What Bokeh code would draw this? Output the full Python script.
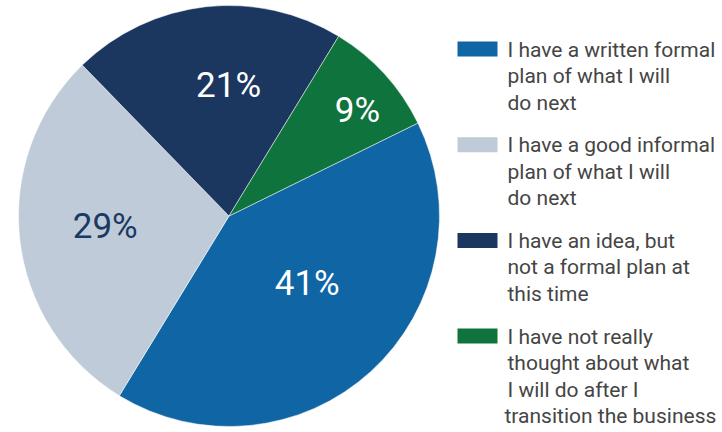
import math
from bokeh.plotting import figure
from bokeh.models import Range1d, ColumnDataSource
from bokeh.core.properties import value
from bokeh.embed import file_html
from bokeh.resources import INLINE

# ---- data ----
categories = [
    "I have a written formal plan of what I will do next",
    "I have a good informal plan of what I will do next",
    "I have an idea, but not a formal plan at this time",
    "I have not really thought about what I will do after I transition the business",
]
shares = [41, 29, 21, 9]
pct_labels = ["41%", "29%", "21%", "9%"]
legend_lines = [
    ["I have a written formal", " plan of what I will", "do next"],
    ["I have a good informal", " plan of what I will", "do next"],
    ["I have an idea, but", "not a formal plan at", " this time"],
    ["I have not really", "thought about what", " I will do after I", "transition the business"],
]

# ---- style ----
colors = ["#1065A5", "#BFCBD8", "#1B375F", "#0F733D"]
label_colors = ["#FFFFFF", "#1B3A63", "#FFFFFF", "#FFFFFF"]
label_r_frac = [0.49, 0.59, 0.62, 0.79]
label_nudge_deg = [6.9, -1.6, -6.2, -3.0]
FONT = "Roboto"

W, H = 722, 432


def py(page_y):
    return H - page_y


p = figure(width=W, height=H, output_backend="svg", toolbar_location=None,
           x_range=Range1d(0, W), y_range=Range1d(0, H), min_border=0)
p.axis.visible = False
p.grid.visible = False
p.outline_line_color = None
p.background_fill_color = "white"
p.border_fill_color = "white"

cx, cy, R = 228.5, py(215.5), 210.5
start = math.radians(26.2)
total = float(sum(shares))
hi, lo = [], []
cum = 0.0
for v in shares:
    hi.append(start - 2 * math.pi * cum / total)
    cum += v
    lo.append(start - 2 * math.pi * cum / total)

src = ColumnDataSource(dict(x=[cx] * 4, y=[cy] * 4, s=lo, e=hi, c=colors, cat=categories))
p.wedge(x="x", y="y", radius=R, radius_units="data", start_angle="s", end_angle="e",
        direction="anticlock", fill_color="c", line_color="white", line_width=0.5,
        source=src)

lx, ly = [], []
for i in range(4):
    mid = (lo[i] + hi[i]) / 2 + math.radians(label_nudge_deg[i])
    r = label_r_frac[i] * R
    lx.append(cx + r * math.cos(mid))
    ly.append(cy + r * math.sin(mid))
p.text(x=lx, y=ly, text=pct_labels, text_color=label_colors, text_font=value(FONT),
       text_font_size="35px", text_align="center", text_baseline="middle")

# legend
sw_x, sw_w, sw_h = 477, 40, 15
tx = 507
gtop0, gstep, lstep = 41, 95.7, 26.5
for i, lines in enumerate(legend_lines):
    top = gtop0 + gstep * i
    p.rect(x=[sw_x], y=[py(top + sw_h / 2)], width=sw_w, height=sw_h,
           fill_color=colors[i], line_color=None)
    xs = []
    ys = []
    for j, t in enumerate(lines):
        xs.append(tx - 3 if t.startswith("transition") else tx)
        ys.append(py(top + 8 + lstep * j))
    p.text(x=xs, y=ys, text=lines, text_color="#454545", text_font=value(FONT),
           text_font_size="21px", text_align="left", text_baseline="middle",
           text_line_height=1.0)

open("out.html", "w").write(file_html(p, INLINE))
